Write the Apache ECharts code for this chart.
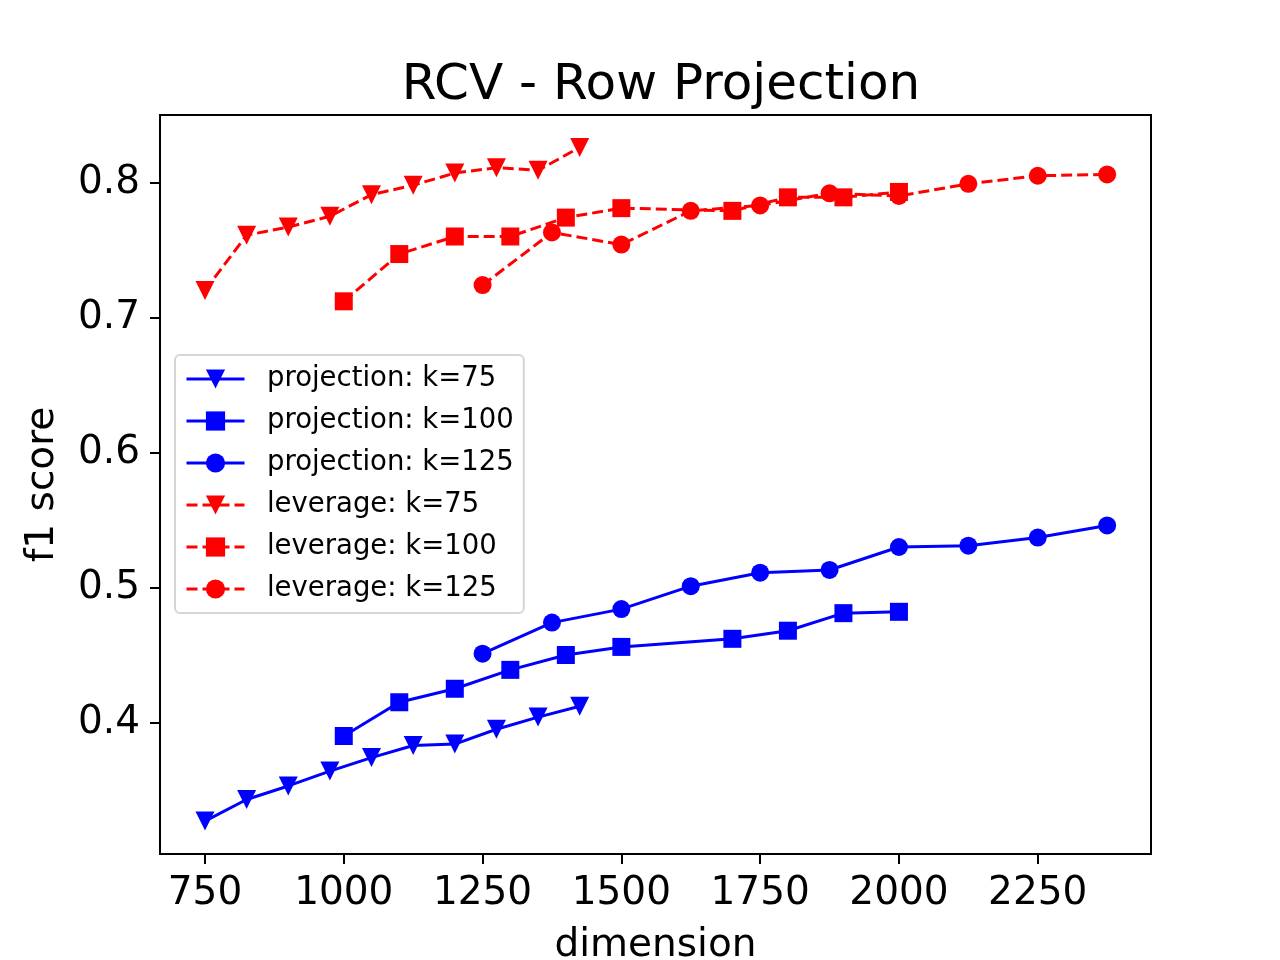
<!DOCTYPE html>
<html>
<head>
<meta charset="utf-8">
<title>RCV - Row Projection</title>
<script src="https://cdn.jsdelivr.net/npm/echarts@6.0.0/dist/echarts.min.js"></script>
<style>
html, body { margin: 0; padding: 0; background: #fff; }
#chart { width: 1280px; height: 960px; }
</style>
</head>
<body>
<div id="chart"></div>
<script>
// dimensions used for each k
var dimK75  = [750, 825, 900, 975, 1050, 1125, 1200, 1275, 1350, 1425];
var dimK100 = [1000, 1100, 1200, 1300, 1400, 1500, 1700, 1800, 1900, 2000];
var dimK125 = [1250, 1375, 1500, 1625, 1750, 1875, 2000, 2125, 2250, 2375];

// f1 scores
var projK75  = [0.327, 0.343, 0.353, 0.364, 0.374, 0.383, 0.384, 0.395, 0.404, 0.412];
var projK100 = [0.390, 0.415, 0.425, 0.439, 0.450, 0.456, 0.462, 0.468, 0.481, 0.482];
var projK125 = [0.451, 0.474, 0.484, 0.501, 0.511, 0.513, 0.530, 0.531, 0.537, 0.546];
var levK75   = [0.720, 0.761, 0.767, 0.775, 0.791, 0.798, 0.807, 0.811, 0.809, 0.826];
var levK100  = [0.712, 0.747, 0.760, 0.760, 0.774, 0.781, 0.779, 0.789, 0.789, 0.793];
var levK125  = [0.724, 0.763, 0.754, 0.779, 0.783, 0.792, 0.790, 0.799, 0.805, 0.806];

// tick labels
var xTicks = [750, 1000, 1250, 1500, 1750, 2000, 2250];
var yTicks = [0.4, 0.5, 0.6, 0.7, 0.8];

var FONT = 'DejaVu Sans';
var triDown = 'path://M0,0L10,0L5,10Z';

function pairs(xs, ys) {
    var out = [];
    for (var i = 0; i < xs.length; i++) out.push([xs[i], ys[i]]);
    return out;
}

function mkSeries(name, xs, ys, color, symbol, size, dashed) {
    return {
        name: name,
        type: 'line',
        data: pairs(xs, ys),
        symbol: symbol,
        symbolSize: size,
        showAllSymbol: true,
        itemStyle: { color: color },
        lineStyle: { color: color, width: 3, type: dashed ? [11, 5] : 'solid' },
        emphasis: { disabled: true },
        animation: false
    };
}

var chart = echarts.init(document.getElementById('chart'));

var option = {
    backgroundColor: '#fff',
    animation: false,
    title: {
        text: 'RCV - Row Projection',
        left: 656,
        textAlign: 'center',
        top: 56,
        textStyle: { fontFamily: FONT, fontSize: 50, fontWeight: 'normal', color: '#000' }
    },
    grid: {
        left: 160, right: 129, top: 115, bottom: 106,
        containLabel: false,
        outerBoundsMode: 'none',
        show: true, borderColor: '#000', borderWidth: 2, backgroundColor: '#fff'
    },
    legend: {
        orient: 'vertical',
        left: 175,
        top: 355,
        padding: [10, 10, 10, 10],
        itemWidth: 58,
        itemHeight: 24,
        itemGap: 14,
        lineStyle: { width: 3 },
        backgroundColor: '#fff',
        borderColor: '#d6d6d6',
        borderWidth: 2,
        borderRadius: 5,
        formatter: function (name) { return '  ' + name; },
        textStyle: { fontFamily: FONT, fontSize: 27.5, color: '#000' },
        data: ['projection: k=75', 'projection: k=100', 'projection: k=125',
               'leverage: k=75', 'leverage: k=100', 'leverage: k=125']
    },
    xAxis: {
        type: 'value',
        min: 669,
        max: 2454,
        name: 'dimension',
        nameLocation: 'middle',
        nameGap: 72,
        nameTextStyle: { fontFamily: FONT, fontSize: 39, color: '#000' },
        axisLine: { show: true, onZero: false, lineStyle: { color: '#000', width: 2 } },
        axisTick: { show: true, length: 10, lineStyle: { color: '#000', width: 2 }, customValues: xTicks },
        axisLabel: {
            fontFamily: FONT, fontSize: 39, color: '#000', margin: 20, customValues: xTicks,
            formatter: function (v) { return String(v); }
        },
        splitLine: { show: false }
    },
    yAxis: {
        type: 'value',
        min: 0.3026,
        max: 0.85,
        name: 'f1 score',
        nameLocation: 'middle',
        nameGap: 98,
        nameTextStyle: { fontFamily: FONT, fontSize: 39, color: '#000' },
        axisLine: { show: true, onZero: false, lineStyle: { color: '#000', width: 2 } },
        axisTick: { show: true, length: 10, lineStyle: { color: '#000', width: 2 }, customValues: yTicks },
        axisLabel: {
            fontFamily: FONT, fontSize: 39, color: '#000', margin: 20, customValues: yTicks,
            formatter: function (v) { return v.toFixed(1); }
        },
        splitLine: { show: false }
    },
    series: [
        mkSeries('projection: k=75',  dimK75,  projK75,  '#0000ff', triDown, [19, 19], false),
        mkSeries('projection: k=100', dimK100, projK100, '#0000ff', 'rect', 18, false),
        mkSeries('projection: k=125', dimK125, projK125, '#0000ff', 'circle', 18, false),
        mkSeries('leverage: k=75',    dimK75,  levK75,   '#ff0000', triDown, [19, 19], true),
        mkSeries('leverage: k=100',   dimK100, levK100,  '#ff0000', 'rect', 18, true),
        mkSeries('leverage: k=125',   dimK125, levK125,  '#ff0000', 'circle', 18, true)
    ]
};

chart.setOption(option);
</script>
</body>
</html>
